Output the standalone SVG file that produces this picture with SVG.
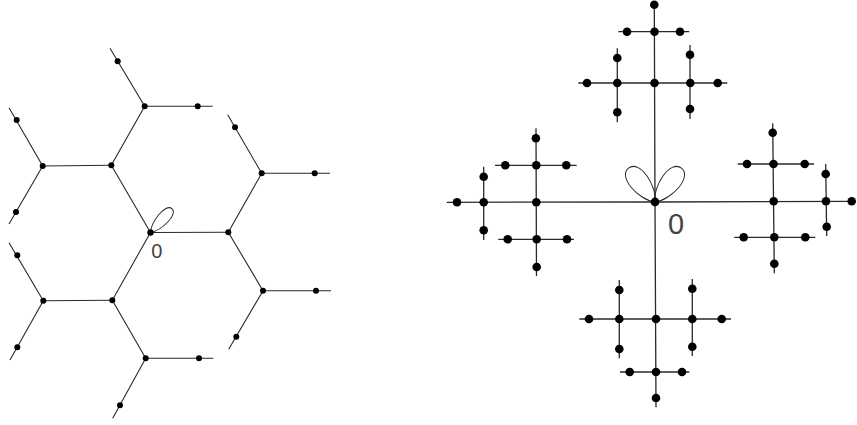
<svg xmlns="http://www.w3.org/2000/svg" width="857" height="425" viewBox="0 0 857 425">
<style>
.e{stroke:#2a2a2a;stroke-width:1.1;fill:none;stroke-linecap:butt}
.e2{stroke:#2a2a2a;stroke-width:1.3;fill:none}
.lp{stroke:#2a2a2a;stroke-width:1;fill:none}
.s{fill:#000}
.b{fill:#000}
.lbl{font-family:"Liberation Sans",Arial,sans-serif;font-weight:300;fill:#444;text-anchor:middle}
</style>
<rect width="857" height="425" fill="#fff"/>
<g id="connectors">
<g id="left-edges" class="e">
<path d="M150.5,232.5 L228.3,232.3 M150.5,232.5 L111.3,165.3 M150.5,232.5 L112.3,300.3"/>
<path d="M111.3,165.3 L144.7,106.3 L110,48.3 M144.7,106.3 L212.7,106.3"/>
<path d="M111.3,165.3 L42.7,166 M9,107.7 L42.7,166 L9,224"/>
<path d="M228.3,232.3 L261.7,173.3 L227.7,114.7 M261.7,173.3 L330,173.3"/>
<path d="M228.3,232.3 L263,290.7 L228.7,349.3 M263,290.7 L331,290.7"/>
<path d="M112.3,300.3 L43.3,300.7 M9,242.7 L43.3,300.7 L10,360"/>
<path d="M112.3,300.3 L145.7,358.3 L112.7,418.3 M145.7,358.3 L213.3,358.3"/>
</g>
<path class="lp" d="M0,0 C9,-7 32,-8.5 32,0 C32,8.5 9,7 0,0 Z" transform="translate(150.5,232.5) rotate(-48)"/>
<g id="right-edges" class="e2">
<path d="M654.3,4.7 L655,202 L656,407.3"/>
<path d="M446.7,202.3 L655,202 L851.7,201.3"/>
<path d="M618.3,31.7 L689.3,31.7 M578.3,83 L727.3,83 M617.3,48.3 L617.3,122.3 M690,45 L690,119"/>
<path d="M536,128.3 L536.5,276 M495,165.3 L576.7,165.3 M498.3,239.3 L574,239.3 M483.7,166.7 L483.7,240"/>
<path d="M772.7,123.3 L774.3,273.3 M737.7,164 L814,164 M734.3,237.3 L815.3,237.3 M825.7,164 L826.7,236"/>
<path d="M579.3,319 L731,319 M619.3,280 L619.3,358.3 M692.3,279 L692.3,356 M620,372 L689.3,372"/>
</g>
<path class="lp" d="M0,0 C12,-12 43,-14 43,0 C43,14 12,12 0,0 Z" transform="translate(655,202) rotate(-128)"/>
<path class="lp" d="M0,0 C12,-12 43,-14 43,0 C43,14 12,12 0,0 Z" transform="translate(655,202) rotate(-52)"/>
</g>
<g id="left-nodes" class="s">
<g id="h0"><circle cx="150.5" cy="232.5" r="3.2"/></g>
<g id="h1"><circle cx="228.3" cy="232.3" r="3"/></g>
<g id="h2"><circle cx="111.3" cy="165.3" r="3"/></g>
<g id="h3"><circle cx="112.3" cy="300.3" r="3"/></g>
<g id="h4"><circle cx="144.7" cy="106.3" r="3"/></g>
<g id="h5"><circle cx="117.7" cy="61.3" r="3"/></g>
<g id="h6"><circle cx="197.7" cy="106.3" r="3"/></g>
<g id="h7"><circle cx="42.7" cy="166" r="3"/></g>
<g id="h8"><circle cx="16.7" cy="120" r="3"/></g>
<g id="h9"><circle cx="16" cy="212" r="3"/></g>
<g id="h10"><circle cx="261.7" cy="173.3" r="3"/></g>
<g id="h11"><circle cx="235" cy="127.3" r="3"/></g>
<g id="h12"><circle cx="314.7" cy="173.3" r="3"/></g>
<g id="h13"><circle cx="263" cy="290.7" r="3"/></g>
<g id="h14"><circle cx="316" cy="290.7" r="3"/></g>
<g id="h15"><circle cx="236.3" cy="336.7" r="3"/></g>
<g id="h16"><circle cx="43.3" cy="300.7" r="3"/></g>
<g id="h17"><circle cx="17.3" cy="255.3" r="3"/></g>
<g id="h18"><circle cx="17.3" cy="347.3" r="3"/></g>
<g id="h19"><circle cx="145.7" cy="358.3" r="3"/></g>
<g id="h20"><circle cx="199" cy="358.3" r="3"/></g>
<g id="h21"><circle cx="120" cy="405.3" r="3"/></g>
</g>
<g id="right-nodes" class="b">
<g id="t0"><circle cx="655" cy="202" r="4.4"/></g>
<g id="t1"><circle cx="654.5" cy="83" r="4.3"/></g>
<g id="t2"><circle cx="654.5" cy="31.7" r="4.3"/></g>
<g id="t3"><circle cx="654.3" cy="4.7" r="4.3"/></g>
<g id="t4"><circle cx="627" cy="31.7" r="4.3"/></g>
<g id="t5"><circle cx="680" cy="31.7" r="4.3"/></g>
<g id="t6"><circle cx="617.3" cy="83" r="4.3"/></g>
<g id="t7"><circle cx="587" cy="83" r="4.3"/></g>
<g id="t8"><circle cx="690.3" cy="83" r="4.3"/></g>
<g id="t9"><circle cx="717.7" cy="83" r="4.3"/></g>
<g id="t10"><circle cx="617.3" cy="58" r="4.3"/></g>
<g id="t11"><circle cx="617.3" cy="112.3" r="4.3"/></g>
<g id="t12"><circle cx="690" cy="54.7" r="4.3"/></g>
<g id="t13"><circle cx="690" cy="109" r="4.3"/></g>
<g id="t14"><circle cx="536.3" cy="202.3" r="4.3"/></g>
<g id="t15"><circle cx="483.7" cy="202.3" r="4.3"/></g>
<g id="t16"><circle cx="457" cy="202.3" r="4.3"/></g>
<g id="t17"><circle cx="536.3" cy="165.3" r="4.3"/></g>
<g id="t18"><circle cx="505.3" cy="165.3" r="4.3"/></g>
<g id="t19"><circle cx="566.3" cy="165.3" r="4.3"/></g>
<g id="t20"><circle cx="535.9" cy="138.3" r="4.3"/></g>
<g id="t21"><circle cx="536.7" cy="239.3" r="4.3"/></g>
<g id="t22"><circle cx="507.7" cy="239.3" r="4.3"/></g>
<g id="t23"><circle cx="567" cy="239.3" r="4.3"/></g>
<g id="t24"><circle cx="536.7" cy="267" r="4.3"/></g>
<g id="t25"><circle cx="483.7" cy="176.7" r="4.3"/></g>
<g id="t26"><circle cx="483.7" cy="230.3" r="4.3"/></g>
<g id="t27"><circle cx="773.7" cy="201.3" r="4.3"/></g>
<g id="t28"><circle cx="826" cy="201.3" r="4.3"/></g>
<g id="t29"><circle cx="851.7" cy="201.3" r="4.3"/></g>
<g id="t30"><circle cx="773.5" cy="164" r="4.3"/></g>
<g id="t31"><circle cx="747" cy="164" r="4.3"/></g>
<g id="t32"><circle cx="804.7" cy="164" r="4.3"/></g>
<g id="t33"><circle cx="772.7" cy="132.7" r="4.3"/></g>
<g id="t34"><circle cx="774.3" cy="237.3" r="4.3"/></g>
<g id="t35"><circle cx="743.7" cy="237.3" r="4.3"/></g>
<g id="t36"><circle cx="805.3" cy="237.3" r="4.3"/></g>
<g id="t37"><circle cx="774.3" cy="263.7" r="4.3"/></g>
<g id="t38"><circle cx="825.7" cy="174" r="4.3"/></g>
<g id="t39"><circle cx="826.7" cy="226.7" r="4.3"/></g>
<g id="t40"><circle cx="656" cy="319" r="4.3"/></g>
<g id="t41"><circle cx="619.3" cy="319" r="4.3"/></g>
<g id="t42"><circle cx="589" cy="319" r="4.3"/></g>
<g id="t43"><circle cx="692.3" cy="319" r="4.3"/></g>
<g id="t44"><circle cx="721.7" cy="319" r="4.3"/></g>
<g id="t45"><circle cx="619.3" cy="290" r="4.3"/></g>
<g id="t46"><circle cx="619.3" cy="349" r="4.3"/></g>
<g id="t47"><circle cx="692.3" cy="288.7" r="4.3"/></g>
<g id="t48"><circle cx="692.3" cy="346.7" r="4.3"/></g>
<g id="t49"><circle cx="656" cy="372" r="4.3"/></g>
<g id="t50"><circle cx="629.7" cy="372" r="4.3"/></g>
<g id="t51"><circle cx="682" cy="372" r="4.3"/></g>
<g id="t52"><circle cx="656" cy="398" r="4.3"/></g>
</g>
<text class="lbl" x="156.7" y="258" font-size="20">0</text>
<text class="lbl" x="676" y="233.5" font-size="29">0</text>
</svg>
